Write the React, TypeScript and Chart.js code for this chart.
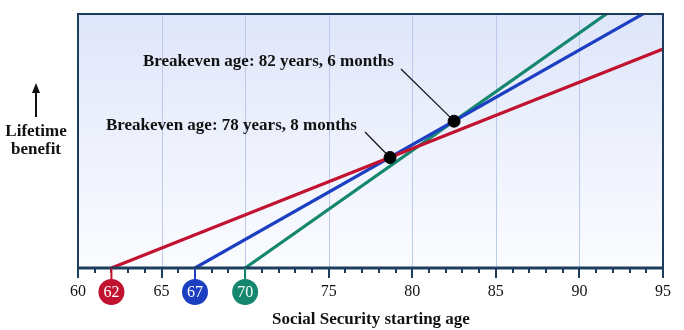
import { useEffect, useRef } from 'react';
import { Chart, registerables } from 'chart.js';
Chart.register(...registerables);

// ---- data ----
const startAges = [62, 67, 70];
const startLabels = ['62', '67', '70'];
const endAge = 95;
const redBenefit = [0, 86.2];
const blueBenefit = [0, 104.5];
const greenBenefit = [0, 115.7];
const breakevenAges = [78.67, 82.5];
const breakevenBenefits = [43.5, 57.8];
const breakevenLabels = ['Breakeven age: 78 years, 8 months', 'Breakeven age: 82 years, 6 months'];
const plainTickLabels = [60, 65, 75, 80, 85, 90, 95];
const gridAges = [65, 70, 75, 80, 85, 90];
const minAge = 60;
const maxAge = 95;

const RED = '#c1122f';
const BLUE = '#1c3fc2';
const GREEN = '#15876f';
const NAVY = '#1d3d5e';
const SERIF = '"Liberation Serif", "DejaVu Serif", serif';

const lineColors = [RED, BLUE, GREEN];
const lineValues = [redBenefit, blueBenefit, greenBenefit];

const decor = {
  id: 'decor',
  beforeDatasetsDraw(chart: any) {
    const { ctx, chartArea: a, scales } = chart;
    const x = scales.x;
    ctx.save();
    const g = ctx.createLinearGradient(0, a.top, 0, a.bottom);
    g.addColorStop(0, '#dfe6fa');
    g.addColorStop(1, '#fbfcff');
    ctx.fillStyle = g;
    ctx.fillRect(a.left, a.top, a.right - a.left, a.bottom - a.top);
    ctx.strokeStyle = '#bccbec';
    ctx.lineWidth = 1;
    gridAges.forEach((v) => {
      const px = Math.round(x.getPixelForValue(v)) + 0.5;
      ctx.beginPath();
      ctx.moveTo(px, a.top);
      ctx.lineTo(px, a.bottom);
      ctx.stroke();
    });
    ctx.restore();
  },
  afterDatasetsDraw(chart: any) {
    const { ctx, chartArea: a, scales } = chart;
    const x = scales.x;
    const y = scales.y;
    ctx.save();
    // frame
    ctx.strokeStyle = NAVY;
    ctx.lineWidth = 2;
    ctx.beginPath();
    ctx.moveTo(a.left, a.bottom);
    ctx.lineTo(a.left, a.top);
    ctx.lineTo(a.right, a.top);
    ctx.lineTo(a.right, a.bottom);
    ctx.stroke();
    ctx.lineWidth = 3;
    ctx.beginPath();
    ctx.moveTo(a.left - 1, a.bottom);
    ctx.lineTo(a.right + 1, a.bottom);
    ctx.stroke();
    // ticks
    ctx.lineWidth = 2;
    for (let v = minAge; v <= maxAge; v++) {
      const px = Math.round(x.getPixelForValue(v));
      const len = v % 5 === 0 ? 10 : 5;
      ctx.beginPath();
      ctx.moveTo(px, a.bottom);
      ctx.lineTo(px, a.bottom + len);
      ctx.stroke();
    }
    // plain tick labels
    ctx.fillStyle = '#111';
    ctx.font = `16px ${SERIF}`;
    ctx.textAlign = 'center';
    ctx.textBaseline = 'middle';
    plainTickLabels.forEach((v) => {
      ctx.fillText(String(v), x.getPixelForValue(v), a.bottom + 24);
    });
    // circle labels
    startAges.forEach((v, i) => {
      const px = x.getPixelForValue(v);
      const cy = a.bottom + 24;
      ctx.strokeStyle = lineColors[i];
      ctx.lineWidth = 2;
      ctx.beginPath();
      ctx.moveTo(px, a.bottom);
      ctx.lineTo(px, cy);
      ctx.stroke();
      ctx.fillStyle = lineColors[i];
      ctx.beginPath();
      ctx.arc(px, cy, 13, 0, Math.PI * 2);
      ctx.fill();
      ctx.fillStyle = '#fff';
      ctx.font = `16px ${SERIF}`;
      ctx.fillText(startLabels[i], px, cy + 1);
    });
    // axis title
    ctx.fillStyle = '#111';
    ctx.font = `bold 17px ${SERIF}`;
    ctx.fillText('Social Security starting age', 371, 320);
    // y label
    ctx.fillText('Lifetime', 36, 132);
    ctx.fillText('benefit', 36, 150);
    ctx.strokeStyle = '#111';
    ctx.lineWidth = 2;
    ctx.beginPath();
    ctx.moveTo(36, 117);
    ctx.lineTo(36, 90);
    ctx.stroke();
    ctx.fillStyle = '#111';
    ctx.beginPath();
    ctx.moveTo(36, 83);
    ctx.lineTo(32, 93);
    ctx.lineTo(40, 93);
    ctx.closePath();
    ctx.fill();
    // annotations
    const textPos = [
      { x: 106, y: 126, lx: 365, ly: 132 },
      { x: 143, y: 62, lx: 401, ly: 69 },
    ];
    ctx.font = `bold 17px ${SERIF}`;
    ctx.textAlign = 'left';
    breakevenLabels.forEach((t, i) => {
      const p = textPos[i];
      ctx.fillStyle = '#111';
      ctx.fillText(t, p.x, p.y);
      const dx = x.getPixelForValue(breakevenAges[i]);
      const dy = y.getPixelForValue(breakevenBenefits[i]);
      ctx.strokeStyle = '#111';
      ctx.lineWidth = 1.2;
      ctx.beginPath();
      ctx.moveTo(p.lx, p.ly);
      ctx.lineTo(dx - 3, dy - 3);
      ctx.stroke();
    });
    ctx.restore();
  },
};

export default function App() {
  const ref = useRef<HTMLCanvasElement>(null);
  useEffect(() => {
    if (!ref.current) return;
    const datasets: any[] = [
      {
        type: 'scatter',
        data: breakevenAges.map((v, i) => ({ x: v, y: breakevenBenefits[i] })),
        backgroundColor: '#000',
        borderColor: '#000',
        pointRadius: 6,
        order: 0,
      },
      ...lineValues.map((vals, i) => ({
        type: 'line',
        data: [
          { x: startAges[i], y: vals[0] },
          { x: endAge, y: vals[1] },
        ],
        borderColor: lineColors[i],
        borderWidth: 3.2,
        pointRadius: 0,
        order: 1 + i,
      })),
    ];
    const chart = new Chart(ref.current, {
      type: 'line',
      data: { datasets },
      options: {
        animation: false,
        responsive: false,
        maintainAspectRatio: false,
        layout: { padding: { left: 78, right: 21, top: 14, bottom: 62 } },
        plugins: { legend: { display: false }, tooltip: { enabled: false } },
        scales: {
          x: { type: 'linear', min: minAge, max: maxAge, display: false },
          y: { type: 'linear', min: 0, max: 100, display: false },
        },
      },
      plugins: [decor],
    });
    return () => chart.destroy();
  }, []);
  return (
    <div style={{ position: 'fixed', left: 0, top: 0, width: 684, height: 330, background: '#fff' }}>
      <canvas ref={ref} width={684} height={330} style={{ display: 'block' }} />
    </div>
  );
}
